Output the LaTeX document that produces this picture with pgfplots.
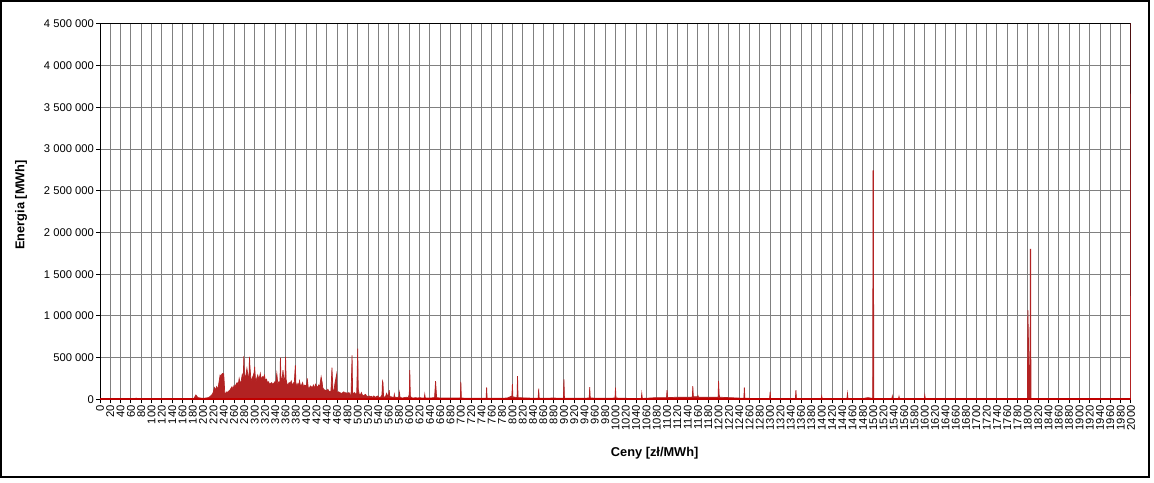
\documentclass[border=0pt]{standalone}
\usepackage{fontspec}
\setmainfont{Liberation Sans}
\usepackage{pgfplots}
\usepackage{pgfplotstable}
\pgfplotsset{compat=1.18}
\definecolor{barred}{RGB}{178,34,34}
\definecolor{linered}{RGB}{192,0,0}
\definecolor{gridgray}{RGB}{128,128,128}

% ceny [zl/MWh] vs energia [MWh]
\pgfplotstableread{
x y
0 2000
68 2000
70 15000
72 2000
180 3000
182 10000
184 30000
186 52000
188 35000
190 20000
195 15000
200 12000
205 15000
210 20000
214 35000
218 60000
220 90000
222 140000
224 110000
226 150000
228 120000
230 170000
232 250000
233 290000
235 270000
236 300000
238 310000
240 305000
241 200000
242 80000
244 70000
246 90000
248 80000
250 100000
252 110000
254 130000
256 150000
258 120000
260 165000
262 150000
264 180000
266 200000
268 170000
270 250000
272 190000
274 220000
276 300000
278 260000
279 516000
280 300000
282 250000
284 330000
285 370000
287 280000
289 260000
290 508000
291 380000
293 220000
295 250000
297 280000
299 320000
300 390000
302 200000
304 250000
306 290000
308 240000
310 280000
311 310000
313 230000
315 270000
317 260000
319 290000
321 220000
323 240000
325 200000
327 210000
329 180000
331 190000
333 200000
335 180000
337 190000
339 210000
341 200000
343 310000
345 180000
347 210000
349 200000
350 496000
351 260000
353 220000
355 350000
357 200000
359 280000
360 508000
361 240000
363 180000
365 175000
367 200000
369 190000
371 220000
373 170000
375 190000
377 210000
379 409000
380 200000
382 150000
384 190000
386 170000
387 220000
389 160000
391 170000
393 200000
395 150000
397 170000
399 160000
401 180000
402 250000
404 140000
406 130000
408 160000
410 150000
412 140000
414 170000
416 130000
418 180000
420 160000
422 140000
424 170000
426 150000
429 270000
431 200000
432 140000
434 120000
436 110000
438 110000
440 100000
442 120000
444 100000
446 90000
448 100000
450 380000
452 90000
454 110000
456 200000
457 230000
459 300000
460 80000
461 80000
463 90000
465 80000
467 75000
469 70000
471 80000
473 90000
475 70000
477 80000
479 70000
481 75000
483 80000
485 60000
487 60000
489 528000
490 90000
492 60000
494 80000
496 60000
498 70000
500 607000
501 120000
503 60000
505 50000
507 80000
509 50000
511 40000
513 50000
515 60000
517 40000
519 35000
521 30000
523 40000
525 30000
527 35000
529 20000
531 40000
533 30000
535 25000
537 35000
539 40000
541 25000
543 20000
545 30000
547 50000
548 218000
549 200000
550 40000
552 20000
554 35000
556 70000
558 40000
560 50000
561 110000
562 40000
564 25000
566 30000
568 20000
570 25000
571 60000
572 20000
574 25000
576 20000
578 25000
580 30000
581 80000
582 25000
584 20000
586 15000
590 20000
594 25000
598 20000
600 60000
601 350000
602 40000
604 20000
608 15000
612 20000
616 15000
620 20000
625 15000
629 15000
630 60000
631 15000
640 15000
649 20000
651 218000
653 20000
660 15000
680 15000
699 15000
700 210000
701 15000
720 12000
749 12000
750 143000
751 12000
770 12000
790 15000
799 40000
800 183000
801 30000
805 25000
809 20000
810 278000
811 20000
830 15000
850 12000
851 127000
852 12000
880 15000
899 12000
900 238000
901 12000
930 12000
949 15000
950 147000
951 15000
980 12000
999 15000
1000 139000
1001 15000
1030 10000
1050 10000
1051 71000
1052 10000
1080 20000
1099 20000
1100 111000
1101 20000
1120 25000
1149 25000
1150 159000
1151 30000
1159 30000
1160 44000
1161 25000
1180 25000
1199 25000
1200 218000
1201 60000
1202 25000
1220 20000
1249 12000
1250 143000
1251 12000
1280 10000
1299 10000
1300 91000
1301 10000
1330 10000
1349 10000
1350 111000
1351 10000
1380 8000
1399 8000
1400 40000
1401 8000
1430 8000
1449 10000
1450 71000
1451 10000
1480 10000
1490 20000
1499 10000
1499.5 2740000
1500.5 2740000
1501 10000
1520 5000
1536 5000
1537 40000
1538 5000
1549 5000
1550 35000
1551 5000
1599 5000
1600 52000
1601 5000
1700 3000
1799 2000
1800 1070000
1802 400000
1804 1000
1804.6 1800000
1805.4 1800000
1806 1000
1900 1000
1999 1000
2000 5000000
}\energia

\begin{document}
\begin{tikzpicture}[x=1pt,y=1pt]
\path[fill=white] (0,0) rectangle (1154,482);
\draw[line width=1.5pt] (1,5) rectangle (1149,481);
\begin{axis}[
  at={(100pt,82.7pt)}, anchor=south west,
  scale only axis, width=1031pt, height=375.3pt,
  xmin=0, xmax=2000, ymin=0, ymax=4500000,
  xtick={0,20,...,2000},
  ytick={0,500000,...,4500000},
  scaled y ticks=false,
  grid=major,
  major grid style={draw=gridgray, line width=1pt},
  axis line style={line width=1pt},
  tick align=outside, major tick length=4pt,
  tick style={black, line width=1pt},
  xtick pos=lower, ytick pos=left,
  /pgf/number format/assume math mode=true,
  yticklabel style={font=\fontsize{11.2}{13}\selectfont, inner sep=2pt,
    /pgf/number format/fixed, /pgf/number format/precision=0,
    /pgf/number format/1000 sep={\ }},
  xticklabel style={font=\fontsize{11.2}{13}\selectfont, rotate=90, anchor=east,
    inner sep=2pt, /pgf/number format/1000 sep={}},
  xlabel={Ceny [zł/MWh]},
  ylabel={Energia [MWh]},
  label style={font=\bfseries\fontsize{12.8}{15}\selectfont},
  xlabel style={at={(axis description cs:0.538,-0.143)}, anchor=center},
  ylabel style={at={(axis description cs:-0.0766,0.518)}, anchor=center},
]
\addplot[draw=barred, fill=barred, line width=0.7pt] table {\energia} \closedcycle;
\addplot[linered, line width=3pt, forget plot] coordinates {(0,0) (2000,0)};
\end{axis}
\end{tikzpicture}
\end{document}
